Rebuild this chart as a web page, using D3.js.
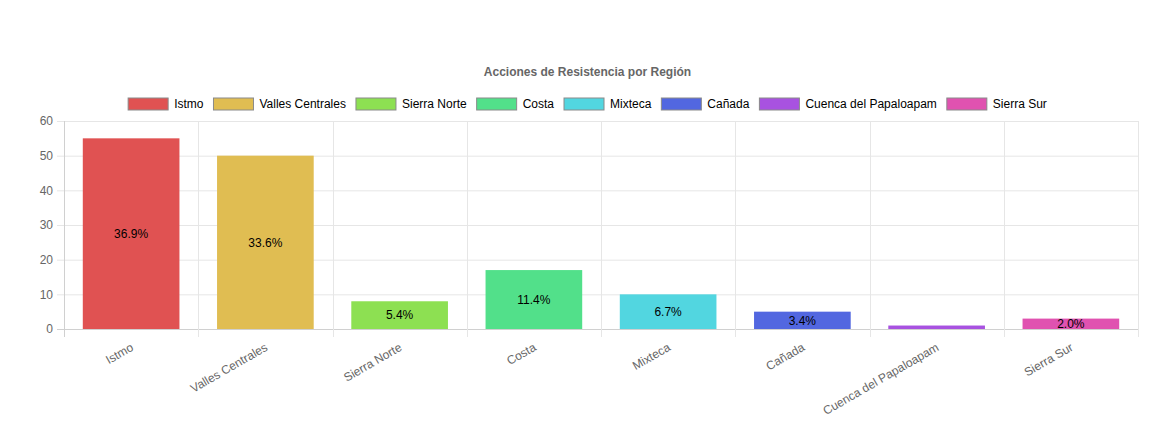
<!DOCTYPE html>
<html>
<head>
<meta charset="utf-8">
<script src="https://cdn.jsdelivr.net/npm/d3@7"></script>
<style>
  html, body { margin: 0; padding: 0; background: #fff; }
  svg { display: block; font-family: "Liberation Sans", Arial, Helvetica, sans-serif; }
</style>
</head>
<body>
<svg id="chart" width="1168" height="442"></svg>
<script>
const categories = ["Istmo", "Valles Centrales", "Sierra Norte", "Costa", "Mixteca", "Cañada", "Cuenca del Papaloapam", "Sierra Sur"];
const values = [55, 50, 8, 17, 10, 5, 1, 3];
const yTicks = [0, 10, 20, 30, 40, 50, 60];
const colors = ["#e05252", "#e0bd52", "#8de052", "#52e08a", "#52d6e0", "#5267e0", "#a852e0", "#e052b0"];
const title = "Acciones de Resistencia por Región";

const W = 1168, H = 442;
const margin = { left: 64, right: 30, top: 121, bottom: 113 };
const svg = d3.select("#chart");
const total = d3.sum(values);

const x = d3.scaleBand().domain(categories).range([margin.left, W - margin.right]).paddingInner(0).paddingOuter(0);
const y = d3.scaleLinear().domain([0, 60]).range([H - margin.bottom, margin.top]);

const gridColor = "#e6e6e6";
const axisColor = "#d0d0d0";
const textColor = "#666";

// Horizontal grid lines + tick marks
svg.append("g").selectAll("line").data(yTicks).join("line")
  .attr("x1", margin.left - 7).attr("x2", W - margin.right)
  .attr("y1", d => y(d) + 0.5).attr("y2", d => y(d) + 0.5)
  .attr("stroke", d => d === 0 ? axisColor : gridColor).attr("stroke-width", 1);

// Vertical grid lines at category boundaries
const bounds = categories.map(c => x(c)).concat([x.range()[1]]);
svg.append("g").selectAll("line").data(bounds).join("line")
  .attr("x1", d => Math.round(d) + 0.5).attr("x2", d => Math.round(d) + 0.5)
  .attr("y1", y(60)).attr("y2", y(0) + 8)
  .attr("stroke", (d, i) => i === 0 ? axisColor : gridColor).attr("stroke-width", 1);

// Y tick labels
svg.append("g").selectAll("text").data(yTicks).join("text")
  .attr("x", margin.left - 11).attr("y", d => y(d)).attr("dy", "0.35em")
  .attr("text-anchor", "end").attr("font-size", 12).attr("fill", textColor)
  .text(d => d);

// Bars
const barW = x.bandwidth() * 0.72;
svg.append("g").selectAll("rect").data(values).join("rect")
  .attr("x", (d, i) => x(categories[i]) + (x.bandwidth() - barW) / 2)
  .attr("width", barW)
  .attr("y", d => y(d))
  .attr("height", d => y(0) - y(d))
  .attr("fill", (d, i) => colors[i]);

// Data labels (percentages)
svg.append("g").selectAll("text").data(values).join("text")
  .attr("x", (d, i) => x(categories[i]) + x.bandwidth() / 2)
  .attr("y", d => (y(d) + y(0)) / 2).attr("dy", "0.35em")
  .attr("text-anchor", "middle").attr("font-size", 12).attr("fill", "#000")
  .text(d => (d / total * 100) >= 1 ? (d / total * 100).toFixed(1) + "%" : "");

// X labels rotated
svg.append("g").selectAll("text").data(categories).join("text")
  .attr("transform", d => `translate(${x(d) + x.bandwidth() / 2 + 1},${y(0) + 17}) rotate(-30)`)
  .attr("dy", "0.35em")
  .attr("text-anchor", "end").attr("font-size", 12).attr("fill", textColor)
  .text(d => d);

// Title
const cxCenter = 587.5;
svg.append("text").attr("x", cxCenter).attr("y", 72).attr("dy", "0.35em")
  .attr("text-anchor", "middle").attr("font-size", 12).attr("font-weight", "bold")
  .attr("fill", textColor).text(title);

// Legend
const legend = svg.append("g");
const items = legend.selectAll("g").data(categories).join("g");
items.append("rect").attr("width", 40).attr("height", 12)
  .attr("fill", (d, i) => colors[i]).attr("stroke", "#8a8a8a").attr("stroke-width", 1);
items.append("text").attr("x", 46).attr("y", 6).attr("dy", "0.35em")
  .attr("font-size", 12).attr("fill", "#000").text(d => d);
const widths = [];
items.each(function () { widths.push(46 + d3.select(this).select("text").node().getComputedTextLength()); });
const totalW = d3.sum(widths) + 10 * (widths.length - 1);
let cur = cxCenter - totalW / 2;
items.each(function (d, i) {
  d3.select(this).attr("transform", `translate(${cur},98)`);
  cur += widths[i] + 10;
});
</script>
</body>
</html>
